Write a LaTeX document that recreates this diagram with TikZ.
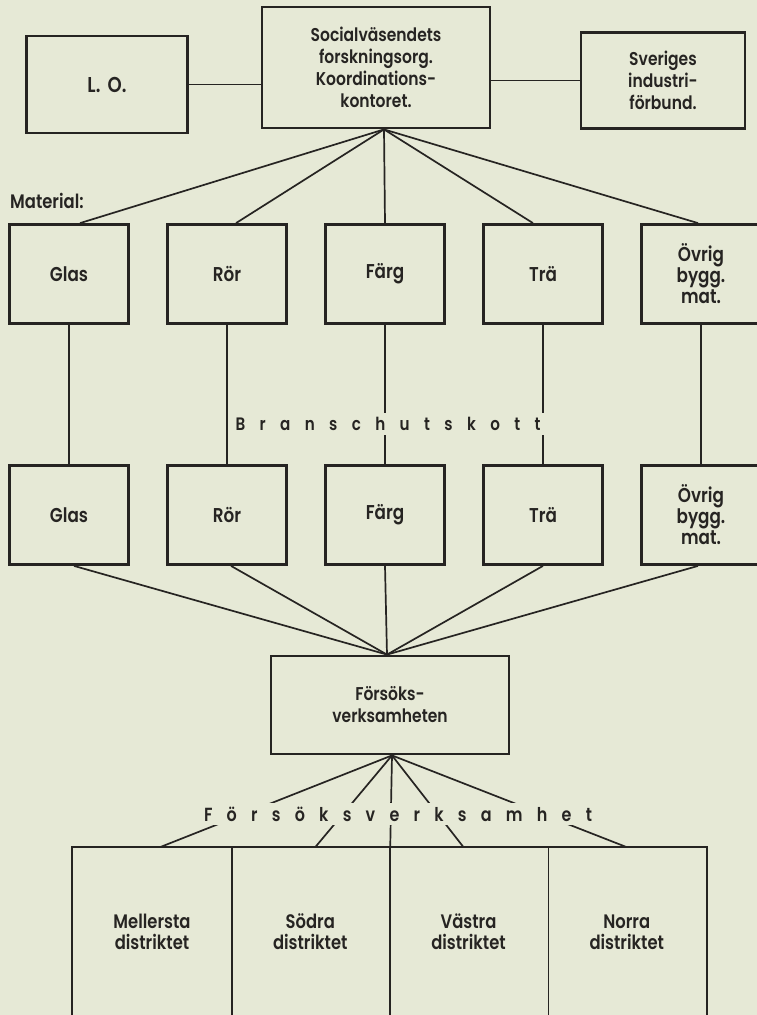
\documentclass[tikz,border=0pt]{standalone}
\usepackage{fontspec}
\setmainfont{Poppins}[UprightFont={* SemiBold}, FakeStretch=0.84]
\usetikzlibrary{positioning}
\definecolor{paper}{RGB}{230,233,214}
\definecolor{ink}{RGB}{38,36,34}

\begin{document}
\begin{tikzpicture} [x=1pt, y=1pt, line width=1.7pt, draw=ink, text=ink, node distance=158pt, box/.style={rectangle, draw, line width=2.8pt, align=center, inner sep=0pt, font=\fontsize{18.5}{22}\selectfont}, matbox/.style={box, minimum width=119pt, minimum height=99pt, font=\fontsize{20}{21}\selectfont}, cell/.style={rectangle, align=center, minimum width=158.25pt, minimum height=168pt, font=\fontsize{19.5}{21}\selectfont}, spaced/.style={fill=paper, inner xsep=8pt, inner ysep=4pt, font=\fontsize{18}{19}\selectfont\addfontfeature{LetterSpace=80}}]
	\fill [paper] (0,0) rectangle (757,-1015);
	\useasboundingbox (0,0) rectangle (757,-1015);
	\clip (0,0) rectangle (757,-1015);

	\node [box, minimum width=228pt, minimum height=121pt] (soc) at (376,-67.5) {Socialväsendets\\forskningsorg.\\Koordinations-\\kontoret.};
	\node [box, minimum width=161pt, minimum height=97pt, font=\fontsize{21.5}{22}\selectfont] (lo) at (107,-84.5) {L.\,\,O.};
	\node [box, minimum width=164pt, minimum height=96pt] (sif) at (663,-80.5) {Sveriges\\industri-\\förbund.};

	% material
	\node [anchor=west, font=\fontsize{19.5}{20}\selectfont] (mat_lbl) at (6,-201) {Material:};
	\node [matbox] (glas_m) at (69,-274) {Glas};
	\node [matbox, right of=glas_m] (ror_m) {Rör};
	\node [matbox, right of=ror_m] (farg_m) {Färg};
	\node [matbox, right of=farg_m] (tra_m) {Trä};
	\node [matbox, right of=tra_m] (ovr_m) {Övrig\\bygg.\\mat.};

	% branschutskott
	\node [matbox, below of=glas_m, node distance=241pt] (glas_b) {Glas};
	\node [matbox, right of=glas_b] (ror_b) {Rör};
	\node [matbox, right of=ror_b] (farg_b) {Färg};
	\node [matbox, right of=farg_b] (tra_b) {Trä};
	\node [matbox, right of=tra_b] (ovr_b) {Övrig\\bygg.\\mat.};

	\node [box, minimum width=238pt, minimum height=98pt] (fvb) at (390,-705) {Försöks-\\verksamheten};

	% districts
	\node [cell] (mell) at (152,-932) {Mellersta\\distriktet};
	\node [cell, right of=mell, node distance=158.25pt] (sod) {Södra\\distriktet};
	\node [cell, right of=sod, node distance=158.25pt] (vast) {Västra\\distriktet};
	\node [cell, right of=vast, node distance=158.25pt] (norr) {Norra\\distriktet};

	% draw edges
	\draw (lo.east) -- (lo.east -| soc.west);
	\draw (sif.west) -- (sif.west -| soc.east);
	\coordinate (soc_fan) at ([xshift=8pt]soc.south);
	\draw (soc_fan) -- ([xshift=11pt]glas_m.north);
	\draw (soc_fan) -- ([xshift=9pt]ror_m.north);
	\draw (soc_fan) -- (farg_m.north);
	\draw (soc_fan) -- ([xshift=-10pt]tra_m.north);
	\draw (soc_fan) -- ([xshift=-3pt]ovr_m.north);
	\draw (glas_m) -- (glas_b);
	\draw (ror_m) -- (ror_b);
	\draw (farg_m) -- (farg_b);
	\draw (tra_m) -- (tra_b);
	\draw (ovr_m) -- (ovr_b);
	\coordinate (fvb_top) at ([xshift=-3pt]fvb.north);
	\draw ([xshift=5pt]glas_b.south) -- (fvb_top);
	\draw ([xshift=4pt]ror_b.south) -- (fvb_top);
	\draw (farg_b.south) -- (fvb_top);
	\draw (tra_b.south) -- (fvb_top);
	\draw ([xshift=-3pt]ovr_b.south) -- (fvb_top);
	\coordinate (fvb_bot) at ([xshift=2pt]fvb.south);
	\draw (fvb_bot) -- ([xshift=8pt]mell.north);
	\draw (fvb_bot) -- ([xshift=5pt]sod.north);
	\draw (fvb_bot) -- (sod.north east);
	\draw (fvb_bot) -- ([xshift=-5pt]vast.north);
	\draw (fvb_bot) -- (norr.north);
	\draw [line width=2.4pt] (mell.south west) -- (mell.north west) -- (norr.north east) -- (norr.south east);
	\draw (mell.north east) -- (mell.south east);
	\draw (sod.north east) -- (sod.south east);
	\draw (vast.north east) -- (vast.south east);

	% labels over the lines
	\node [spaced] (bransch) at (388,-424) {Branschutskott};
	\node [spaced, font=\fontsize{19}{20}\selectfont\addfontfeature{LetterSpace=75}] (fv_lbl) at (398,-814) {Försöksverksamhet};
\end{tikzpicture}
\end{document}
